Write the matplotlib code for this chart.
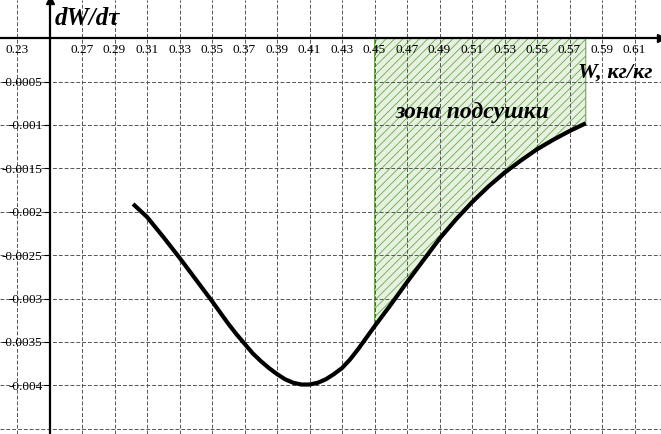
import numpy as np
import matplotlib.pyplot as plt

# ─── Data ─────────────────────────────────────────────────────────────────────
W = [0.3014, 0.31, 0.32, 0.33, 0.34, 0.35, 0.36, 0.365, 0.37, 0.375, 0.38,
     0.385, 0.39, 0.395, 0.40, 0.405, 0.41, 0.415, 0.42, 0.425, 0.43, 0.435,
     0.44, 0.445, 0.45, 0.46, 0.47, 0.48, 0.49, 0.50, 0.51, 0.52, 0.53, 0.54,
     0.55, 0.56, 0.57, 0.58]
dW = [-0.00191, -0.00206, -0.00229, -0.00253, -0.00278, -0.00303, -0.00329,
      -0.00341, -0.00352, -0.00363, -0.00372, -0.00380, -0.00387, -0.00393,
      -0.00397, -0.00399, -0.00399, -0.00397, -0.00393, -0.00387, -0.00380,
      -0.00370, -0.00358, -0.00345, -0.00332, -0.00307, -0.00281, -0.00256,
      -0.00231, -0.00209, -0.00189, -0.00171, -0.00155, -0.00141, -0.00128,
      -0.00117, -0.00107, -0.00098]

x_ticks = [0.23, 0.27, 0.29, 0.31, 0.33, 0.35, 0.37, 0.39, 0.41, 0.43, 0.45,
           0.47, 0.49, 0.51, 0.53, 0.55, 0.57, 0.59, 0.61]
y_ticks = [-0.0005, -0.001, -0.0015, -0.002, -0.0025, -0.003, -0.0035, -0.004]
x_grid = [0.23, 0.25] + x_ticks[1:]
y_grid = y_ticks + [-0.0045]

zone_start = 0.45

# ─── Figure ───────────────────────────────────────────────────────────────────
plt.rcParams['hatch.linewidth'] = 0.6
serif = 'Liberation Serif'

fig = plt.figure(figsize=(6.61, 4.34), dpi=100)
ax = fig.add_axes([0, 0, 1, 1])
ax.set_xlim(0.2195, 0.6263)
ax.set_ylim(-0.00456, 0.00044)

# grid
for gx in x_grid:
    ax.axvline(gx, color='#555555', lw=0.7, ls=(0, (4, 2)), zorder=1.5)
for gy in y_grid:
    ax.axhline(gy, color='#555555', lw=0.7, ls=(0, (4, 2)), zorder=1.5)

# drying zone
Wa = np.array(W)
dWa = np.array(dW)
m = Wa >= zone_start
ax.fill_between(Wa[m], dWa[m], 0, facecolor='#e6f1df', edgecolor='#6aa84f',
                hatch='////', lw=0.8, zorder=1)

# curve
ax.plot(W, dW, color='black', lw=3, solid_capstyle='butt',
        solid_joinstyle='round', zorder=3)

# axes through origin
for s in ['top', 'right']:
    ax.spines[s].set_visible(False)
ax.spines['left'].set_position(('data', 0.25))
ax.spines['bottom'].set_position(('data', 0))
for s in ['left', 'bottom']:
    ax.spines[s].set_linewidth(1.6)
    ax.spines[s].set_zorder(4)
ax.plot(1, 0, '>k', ms=6, transform=ax.get_yaxis_transform(), clip_on=False, zorder=5)
ax.plot(0.25, 1, '^k', ms=6, transform=ax.get_xaxis_transform(), clip_on=False, zorder=5)

ax.set_xticks(x_ticks)
ax.set_xticklabels([f'{v:.2f}' for v in x_ticks])
ax.set_yticks(y_ticks)
ax.set_yticklabels([f'{v:g}' for v in y_ticks])
ax.tick_params(axis='x', direction='out', length=0, pad=4, labelsize=9.5)
ax.tick_params(axis='y', direction='out', length=4, width=0.8, pad=1, labelsize=9.5)
for lab in ax.get_xticklabels() + ax.get_yticklabels():
    lab.set_family(serif)

# labels
ax.text(55 / 661, 0.985, 'dW/dτ', transform=fig.transFigure, ha='left', va='top',
        family=serif, fontsize=18, fontweight='bold', fontstyle='italic')
ax.text(652 / 661, 1 - 78 / 434, 'W, кг/кг', transform=fig.transFigure,
        ha='right', va='baseline', family=serif, fontsize=16,
        fontweight='bold', fontstyle='italic')
ax.text(0.5105, -0.00086, 'зона подсушки', ha='center', va='center',
        family=serif, fontsize=17, fontweight='bold', fontstyle='italic', zorder=4)

fig.savefig('out.png', dpi=100)
